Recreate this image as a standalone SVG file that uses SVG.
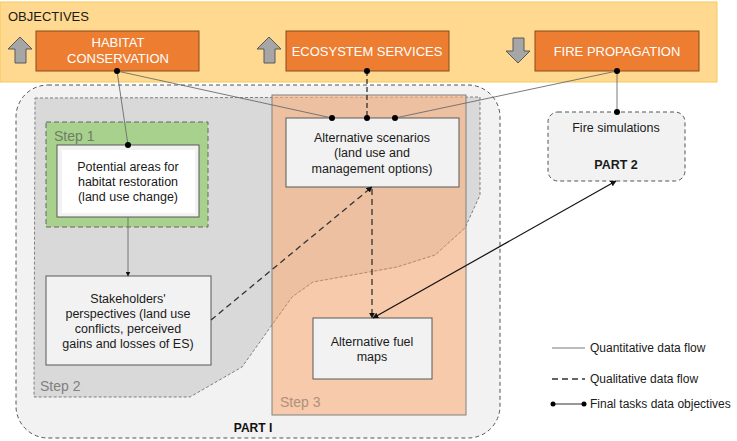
<svg xmlns="http://www.w3.org/2000/svg" width="737" height="441" viewBox="0 0 737 441">
<defs>
<marker id="ah" viewBox="0 0 10 10" refX="9" refY="5" markerWidth="6" markerHeight="6" orient="auto-start-reverse" markerUnits="userSpaceOnUse"><path d="M0,0 L10,5 L0,10 Z" fill="#111"/></marker>
<marker id="ahs" viewBox="0 0 10 10" refX="9" refY="5" markerWidth="5" markerHeight="5" orient="auto" markerUnits="userSpaceOnUse"><path d="M0,0 L10,5 L0,10 Z" fill="#111"/></marker>
</defs>
<style>
text{font-family:"Liberation Sans",Arial,sans-serif;}
.obj{fill:#ED7D31;stroke:#8A4A1C;stroke-width:1;}
.objt{fill:#FFFFFF;font-size:13px;text-anchor:middle;}
.arr{fill:#A6A6A6;stroke:#595959;stroke-width:1;}
.box{fill:#F2F2F2;stroke:#595959;stroke-width:1;}
.bt{fill:#1a1a1a;font-size:12.5px;text-anchor:middle;}
.q{fill:none;stroke:#6b6b6b;stroke-width:0.9;}
.ql{fill:none;stroke:#333;stroke-width:1.3;stroke-dasharray:6,4;}
.fin{fill:none;stroke:#111;stroke-width:1.2;}
.leg{fill:#1a1a1a;font-size:12px;}
.d{fill:#000;}
</style>
<rect width="737" height="441" fill="#FFFFFF"/>
<g id="objectives">
<rect x="0" y="2" width="717" height="80" fill="#FFD990" stroke="#F6C95C" stroke-width="1"/>
<text x="8" y="21" font-size="13" fill="#1a1a1a">OBJECTIVES</text>
</g>
<g id="habitat">
<path class="arr" d="M20,37 L32,49 L26,49 L26,63 L15,63 L15,49 L8,49 Z"/>
<rect class="obj" x="36" y="31" width="163" height="40"/>
<text class="objt" x="118" y="47">HABITAT</text>
<text class="objt" x="118" y="63">CONSERVATION</text>
</g>
<g id="ecosystem">
<path class="arr" d="M269,37 L281,49 L275,49 L275,63 L264,63 L264,49 L257,49 Z"/>
<rect class="obj" x="286" y="31" width="163" height="40"/>
<text class="objt" x="367" y="56">ECOSYSTEM SERVICES</text>
</g>
<g id="fire">
<path class="arr" d="M518,63 L530,51 L524,51 L524,38 L513,38 L513,51 L506,51 Z"/>
<rect class="obj" x="535" y="31" width="164" height="40"/>
<text class="objt" x="617" y="56">FIRE PROPAGATION</text>
</g>
<g id="part1">
<rect x="16" y="85" width="484" height="353" rx="32" ry="32" fill="#F2F2F2" stroke="#555" stroke-width="1" stroke-dasharray="4,3"/>
<text x="253" y="432" font-size="12" font-weight="bold" text-anchor="middle" fill="#111">PART I</text>
</g>
<g id="step2">
<path d="M35,98 L480,97 L480,195 L465,228 L435,255 L397,267 L313,282 L292,297 L272,325 L242,367 L190,397 L34,397 Z" fill="#D9D9D9" stroke="#666" stroke-width="0.8" stroke-dasharray="3,2"/>
<text x="40" y="391" font-size="14" fill="#808080">Step 2</text>
</g>
<g id="step3">
<rect x="272" y="95" width="194" height="320" fill="#F9AF79" fill-opacity="0.6" stroke="#808080" stroke-width="1"/>
<path d="M465,228 L435,255 L397,267 L313,282 L292,297 L272,325" fill="none" stroke="#B08A70" stroke-width="0.7" stroke-dasharray="3,2"/>
<text x="280" y="407" font-size="14" fill="#B0907E">Step 3</text>
</g>
<g id="step1">
<rect x="46" y="122" width="162" height="105" fill="#A9D18E" stroke="#666" stroke-width="1" stroke-dasharray="5,3"/>
<text x="54" y="141" font-size="14" fill="#6d7d66">Step 1</text>
</g>
<g id="potential">
<rect class="box" x="57" y="145" width="142" height="72"/>
<rect x="62" y="150" width="133" height="63" fill="#FFFFFF"/>
<text class="bt" x="128" y="171">Potential areas for</text>
<text class="bt" x="128" y="186">habitat restoration</text>
<text class="bt" x="128" y="201">(land use change)</text>
</g>
<g id="stakeholders">
<rect class="box" x="46" y="276" width="165" height="89"/>
<text class="bt" x="128" y="303">Stakeholders'</text>
<text class="bt" x="128" y="318">perspectives (land use</text>
<text class="bt" x="128" y="333">conflicts, perceived</text>
<text class="bt" x="128" y="348">gains and losses of ES)</text>
</g>
<g id="scenarios">
<rect class="box" x="286" y="118" width="173" height="69"/>
<text class="bt" x="372" y="142">Alternative scenarios</text>
<text class="bt" x="372" y="157">(land use and</text>
<text class="bt" x="372" y="173">management options)</text>
</g>
<g id="fuelmaps">
<rect class="box" x="313" y="318" width="119" height="61"/>
<text class="bt" x="372" y="346">Alternative fuel</text>
<text class="bt" x="372" y="361">maps</text>
</g>
<g id="firesim">
<rect x="548" y="112" width="137" height="69" rx="10" ry="10" fill="#F2F2F2" stroke="#555" stroke-width="1" stroke-dasharray="4,3"/>
<text class="bt" x="616" y="132">Fire simulations</text>
<text class="bt" x="616" y="169" font-weight="bold">PART 2</text>
</g>
<g id="connectors">
<line class="q" x1="117" y1="71" x2="128" y2="145"/>
<line class="q" x1="117" y1="71" x2="332" y2="118"/>
<line x1="367" y1="71" x2="367" y2="118" fill="none" stroke="#222" stroke-width="1.2" stroke-dasharray="5,3"/>
<line class="q" x1="617" y1="71" x2="395" y2="118"/>
<line class="q" x1="617" y1="71" x2="617" y2="112"/>
<line class="q" x1="128" y1="217" x2="128" y2="276" marker-end="url(#ahs)"/>
<line class="ql" x1="211" y1="320" x2="372" y2="187" marker-end="url(#ah)"/>
<line class="ql" x1="372" y1="189" x2="372" y2="318" marker-end="url(#ah)"/>
<line class="fin" x1="373" y1="318" x2="616" y2="181" marker-start="url(#ah)" marker-end="url(#ah)"/>
<circle class="d" cx="117" cy="71" r="3"/>
<circle class="d" cx="128" cy="145" r="3"/>
<circle class="d" cx="332" cy="118" r="3"/>
<circle class="d" cx="367" cy="71" r="3"/>
<circle class="d" cx="367" cy="118" r="3"/>
<circle class="d" cx="395" cy="118" r="3"/>
<circle class="d" cx="617" cy="71" r="3"/>
<circle class="d" cx="617" cy="112" r="3"/>
</g>
<g id="legend">
<line class="q" x1="552" y1="348" x2="585" y2="348"/>
<text class="leg" x="590" y="352">Quantitative data flow</text>
<line x1="552" y1="379" x2="585" y2="379" stroke="#333" stroke-width="1.3" stroke-dasharray="6,4"/>
<text class="leg" x="590" y="383">Qualitative data flow</text>
<line x1="553" y1="404" x2="584" y2="404" stroke="#333" stroke-width="1"/>
<circle class="d" cx="553" cy="404" r="2.5"/>
<circle class="d" cx="584" cy="404" r="2.5"/>
<text class="leg" x="590" y="408">Final tasks data objectives</text>
</g>
</svg>
